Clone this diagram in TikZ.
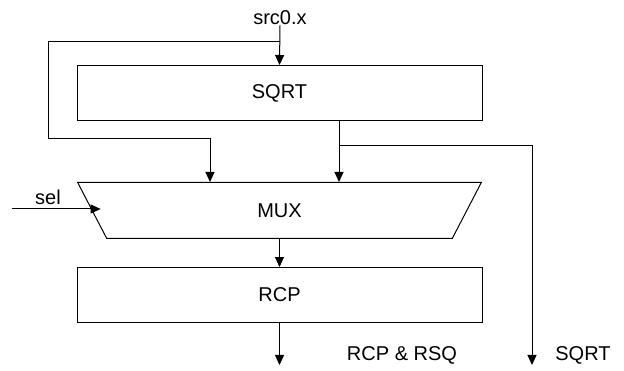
\documentclass[tikz,border=0pt]{standalone}
\usepackage{fontspec}
\setmainfont{Liberation Sans}
\usepackage{tikz}
\usetikzlibrary{positioning,arrows.meta,shapes.geometric,calc}
\tikzset{
  box/.style   = {draw, line width=1pt, minimum width=405pt, minimum height=55pt, inner sep=0pt},
  muxbox/.style = {draw, line width=1pt, trapezium, shape border rotate=180, trapezium stretches=true,
                   trapezium angle=75, minimum width=405pt, minimum height=56pt, inner sep=0pt},
  flow/.style  = {-{Triangle[length=10pt,width=9pt]}, line width=1pt},
  lbl/.style   = {inner sep=0pt},
}

\begin{document}
\begin{tikzpicture}[x=1pt, y=1pt, font=\fontsize{20}{24}\selectfont]
  \useasboundingbox (0,0) rectangle (624,371);
  \node[box] (sqrt) at (279.5,278) {SQRT};
  \node[muxbox, below=61pt of sqrt] (mux) {MUX};
  \node[box, below=28pt of mux] (rcp) {RCP};
  \node[lbl] (src) at (280,353) {src0.x};
  \node[lbl] (sel) at (48,174) {sel};
  \node[lbl] (rcpout) at (402,16) {RCP \& RSQ};
  \node[lbl] (sqrtlbl) at (583,16) {SQRT};
  \coordinate (fb) at (280,329);
  \coordinate (fbl) at (48,232);
  \coordinate (selin) at (12,162);
  \coordinate (tap) at (339,225);
  \coordinate (sqrtend) at (532,6);
  \coordinate (rcpend) at (279.5,6);
  % input and feedback
  \draw[flow] (src.south) -- (sqrt.north);
  \draw[flow] (fb) -| (fbl) -| ([xshift=-69.5pt]mux.north);
  \draw[flow] ([xshift=59.5pt]sqrt.south) -- ([xshift=59.5pt]mux.north);
  \draw[flow] (tap) -| (sqrtend);
  \draw[flow, shorten >=-9pt] (selin) -- (selin -| mux.west);
  % outputs
  \draw[flow] (mux.south) -- (rcp.north);
  \draw[flow] (rcp.south) -- (rcpend);
\end{tikzpicture}
\end{document}
